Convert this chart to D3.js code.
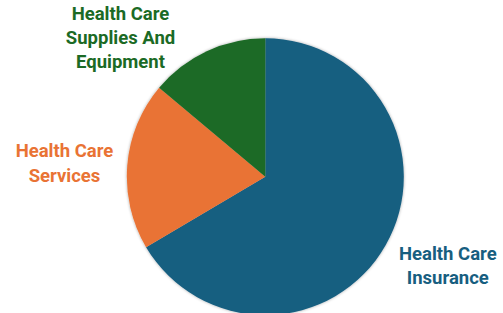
<!DOCTYPE html>
<html lang="en">
<head>
<meta charset="UTF-8">
<script src="https://cdnjs.cloudflare.com/ajax/libs/d3/7.8.5/d3.min.js"></script>
<style>
  body { margin: 0; background: #fff; }
  text { font-family: Roboto, "Noto Sans", sans-serif; font-weight: 700; }
</style>
</head>
<body>
<svg id="chart" width="503" height="313"></svg>
<script>
// slice data, clockwise from 12 o'clock
const categories = ["Health Care Insurance", "Health Care Services", "Health Care Supplies And Equipment"];
const shares = [66.5, 19.6, 13.9];
const labelLines = [["Health Care", "Insurance"], ["Health Care", "Services"], ["Health Care", "Supplies And", "Equipment"]];
const colors = ["#175e80", "#e97334", "#1b6a25"];

const svg = d3.select("#chart");
const cx = 265.3, cy = 176.7, radius = 138.5;

const defs = svg.append("defs");
const f = defs.append("filter").attr("id", "shadow").attr("x", "-10%").attr("y", "-10%").attr("width", "120%").attr("height", "120%");
f.append("feDropShadow").attr("dx", 0).attr("dy", 0).attr("stdDeviation", 1.5).attr("flood-color", "#000").attr("flood-opacity", 0.35);

const pie = d3.pie().sort(null).value(d => d)(shares);
const arc = d3.arc().innerRadius(0).outerRadius(radius);

const g = svg.append("g").attr("transform", `translate(${cx},${cy})`);
g.append("g").attr("filter", "url(#shadow)")
  .selectAll("path").data(pie).join("path")
  .attr("d", arc)
  .attr("fill", (d, i) => colors[i]);

// label anchors (Excel "best fit" placement): x centre, y middle baseline, relative to pie centre
const labelPos = [[182.5, 95.2], [-200.8, -7.2], [-144.8, -132.7]];
const lineH = 24.3;

const labels = g.selectAll("text.lbl").data(labelLines).join("text")
  .attr("class", "lbl")
  .attr("text-anchor", "middle")
  .attr("font-size", 18.5)
  .attr("fill", (d, i) => colors[i])
  .attr("transform", (d, i) => `translate(${labelPos[i][0]},${labelPos[i][1]})`);

labels.selectAll("tspan").data(d => d.map((t, j) => ({ t, j, n: d.length }))).join("tspan")
  .attr("x", 0)
  .attr("y", d => (d.j - (d.n - 1) / 2) * lineH)
  .text(d => d.t);
</script>
</body>
</html>
